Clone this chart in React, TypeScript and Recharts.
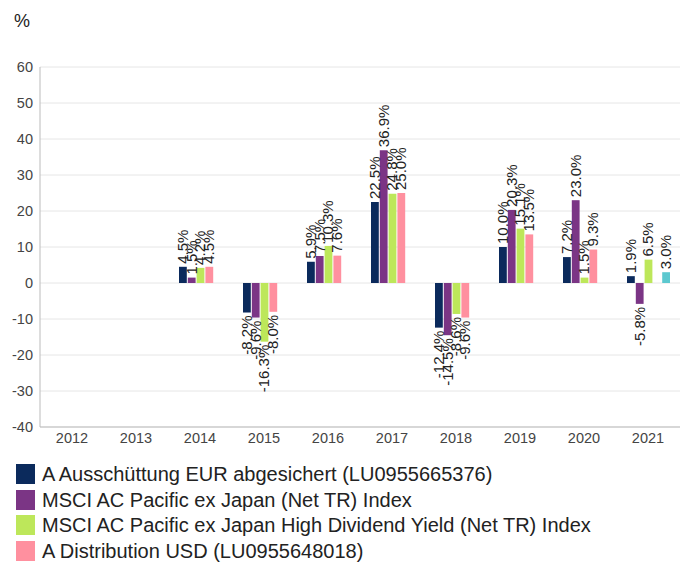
import React from "react";
import { Bar, BarChart, CartesianGrid, LabelList, XAxis, YAxis } from "recharts";

const years = ["2012", "2013", "2014", "2015", "2016", "2017", "2018", "2019", "2020", "2021"];
const fundEur = [null, null, 4.5, -8.2, 5.9, 22.5, -12.4, 10.0, 7.2, 1.9];
const msciPacific = [null, null, 1.5, -9.6, 7.5, 36.9, -14.5, 20.3, 23.0, -5.8];
const msciHighDiv = [null, null, 4.2, -16.3, 10.3, 24.8, -8.6, 15.1, 1.5, 6.5];
const fundUsd = [null, null, 4.5, -8.0, 7.6, 25.0, -9.6, 13.5, 9.3, null];
const fifthSeries = [null, null, null, null, null, null, null, null, null, 3.0];
const yTicks = [-40, -30, -20, -10, 0, 10, 20, 30, 40, 50, 60];

const series = [
  { key: "eur", name: "A Ausschüttung EUR abgesichert (LU0955665376)", color: "#0b2a5c", legend: true },
  { key: "pac", name: "MSCI AC Pacific ex Japan (Net TR) Index", color: "#7b3585", legend: true },
  { key: "hdy", name: "MSCI AC Pacific ex Japan High Dividend Yield (Net TR) Index", color: "#bde75a", legend: true },
  { key: "usd", name: "A Distribution USD (LU0955648018)", color: "#ff909f", legend: true },
  { key: "fifth", name: "", color: "#5cc8cf", legend: false },
];

const chartData = years.map((year, i) => ({
  year,
  eur: fundEur[i],
  pac: msciPacific[i],
  hdy: msciHighDiv[i],
  usd: fundUsd[i],
  fifth: fifthSeries[i],
}));

const font = "'Liberation Sans', Arial, sans-serif";

function RotatedLabel(props: any) {
  const { x, y, width, height, value } = props;
  if (value == null || x == null) return null;
  const cx = Number(x) + Number(width) / 2 + 5;
  const top = Math.min(Number(y), Number(y) + Number(height));
  const bottom = Math.max(Number(y), Number(y) + Number(height));
  const neg = value < 0;
  const ay = neg ? bottom + 3 : top - 3;
  return (
    <text
      x={cx}
      y={ay}
      transform={`rotate(-90 ${cx} ${ay})`}
      textAnchor={neg ? "end" : "start"}
      fontSize={15}
      fontFamily={font}
      fill="#222"
    >
      {Number(value).toFixed(1)}%
    </text>
  );
}

export default function App() {
  return (
    <div style={{ position: "absolute", left: 0, top: 0, width: 680, height: 563, overflow: "hidden", background: "#fff", fontFamily: font }}>
      <div style={{ position: "absolute", left: 14, top: 11, fontSize: 18, color: "#222" }}>%</div>
      <BarChart
        width={680}
        height={460}
        data={chartData}
        margin={{ top: 67, right: 0, left: 0, bottom: 0 }}
        barSize={7.8}
        barGap={1}
      >
        <CartesianGrid vertical={false} stroke="#e6e6e6" />
        <XAxis
          dataKey="year"
          height={33}
          axisLine={{ stroke: "#bbb" }}
          tickLine={false}
          tickSize={0}
          tickMargin={6}
          tick={{ fontSize: 14.5, fill: "#444", fontFamily: font }}
          interval={0}
        />
        <YAxis
          width={40}
          domain={[-40, 60]}
          ticks={yTicks}
          axisLine={{ stroke: "#bbb" }}
          tickLine={false}
          tickSize={0}
          tickMargin={7}
          tick={{ fontSize: 14.5, fill: "#444", fontFamily: font }}
          interval={0}
        />
        {series.map((s) => (
          <Bar key={s.key} dataKey={s.key} name={s.name} fill={s.color} isAnimationActive={false}>
            <LabelList dataKey={s.key} content={RotatedLabel} />
          </Bar>
        ))}
      </BarChart>
      <div style={{ position: "absolute", left: 16, top: 464 }}>
        {series
          .filter((s) => s.legend)
          .map((s) => (
            <div key={s.key} style={{ display: "flex", alignItems: "flex-start", height: 25.6 }}>
              <div style={{ width: 19, height: 20, background: s.color, flexShrink: 0 }} />
              <span
                style={{
                  display: "inline-block",
                  marginLeft: 7,
                  fontSize: 20,
                  color: "#222",
                  whiteSpace: "nowrap",
                  lineHeight: "21px",
                }}
              >
                {s.name}
              </span>
            </div>
          ))}
      </div>
    </div>
  );
}
